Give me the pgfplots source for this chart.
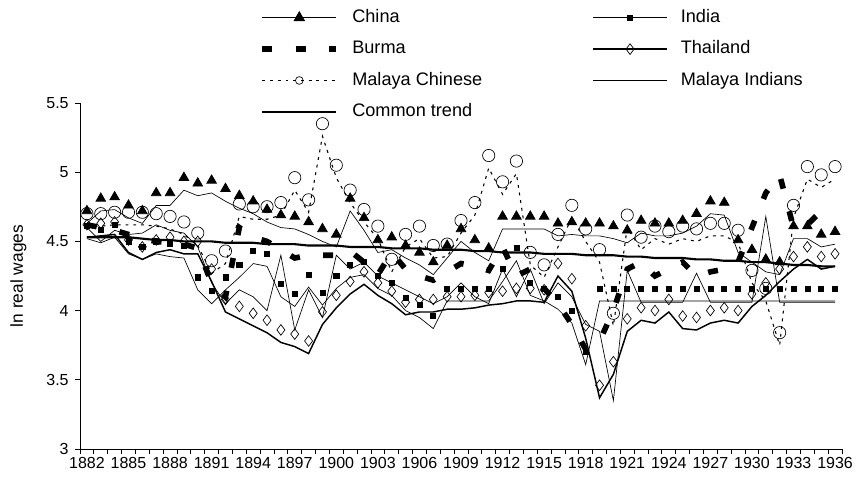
\documentclass[border=0pt]{standalone}
\usepackage{pgfplots}
\pgfplotsset{compat=1.18}
\usepackage{pgfplotstable}
\usepackage{fontspec}
\setmainfont{Liberation Sans}

\pgfplotstableread{
year china india burma thai mchin mind trend
1882 4.63 4.52 4.62 4.53 4.61 4.60 4.53
1883 4.72 4.49 4.60 4.54 4.61 4.50 4.53
1884 4.73 4.53 4.58 4.55 4.62 4.58 4.53
1885 4.67 4.41 4.55 4.42 4.62 4.55 4.53
1886 4.63 4.37 4.52 4.37 4.62 4.56 4.52
1887 4.76 4.41 4.50 4.42 4.61 4.62 4.51
1888 4.76 4.39 4.49 4.44 4.59 4.58 4.51
1889 4.87 4.38 4.48 4.41 4.55 4.56 4.50
1890 4.83 4.15 4.45 4.41 4.47 4.46 4.50
1891 4.85 4.05 4.20 4.21 4.27 4.20 4.50
1892 4.79 4.15 4.10 3.99 4.34 4.05 4.49
1893 4.74 4.24 4.60 3.94 4.68 4.15 4.49
1894 4.70 4.34 4.53 3.89 4.66 4.10 4.49
1895 4.64 4.32 4.50 3.84 4.66 4.00 4.48
1896 4.60 4.10 4.44 3.77 4.69 4.40 4.48
1897 4.59 4.03 4.38 3.74 4.87 3.86 4.48
1898 4.55 4.17 4.40 3.69 4.71 4.15 4.47
1899 4.50 4.04 4.40 3.90 5.26 3.95 4.47
1900 4.46 4.16 4.40 4.02 4.96 4.40 4.47
1901 4.72 4.24 4.43 4.12 4.78 4.30 4.46
1902 4.58 4.26 4.35 4.19 4.64 4.35 4.46
1903 4.42 4.16 4.26 4.11 4.52 4.25 4.46
1904 4.44 4.11 4.42 4.05 4.28 4.20 4.45
1905 4.38 4.00 4.30 3.97 4.46 4.15 4.45
1906 4.33 3.95 4.25 3.99 4.52 4.10 4.45
1907 4.26 3.87 4.22 3.99 4.38 4.05 4.44
1908 4.38 4.07 4.28 4.01 4.39 4.10 4.44
1909 4.50 4.07 4.34 4.01 4.56 4.20 4.44
1910 4.42 4.07 4.32 4.02 4.69 4.10 4.43
1911 4.36 4.07 4.29 4.04 5.03 4.05 4.43
1912 4.59 4.21 4.46 4.05 4.84 4.30 4.42
1913 4.59 4.36 4.25 4.07 4.99 4.10 4.42
1914 4.59 4.11 4.30 4.07 4.33 4.30 4.42
1915 4.59 4.07 4.16 4.06 4.24 4.05 4.41
1916 4.54 4.01 4.05 4.25 4.46 4.20 4.41
1917 4.55 3.91 3.90 4.14 4.67 4.10 4.41
1918 4.54 3.61 3.72 3.80 4.50 3.90 4.40
1919 4.54 4.07 3.78 3.37 4.35 3.85 4.40
1920 4.52 4.07 4.00 3.54 3.89 3.35 4.40
1921 4.49 4.07 4.30 3.85 4.60 4.29 4.39
1922 4.56 4.07 4.35 3.93 4.44 4.06 4.39
1923 4.54 4.07 4.25 3.91 4.52 4.06 4.38
1924 4.54 4.07 4.30 3.99 4.48 4.06 4.38
1925 4.56 4.07 4.35 3.87 4.52 4.06 4.38
1926 4.61 4.07 4.25 3.86 4.50 4.27 4.37
1927 4.70 4.07 4.28 3.91 4.54 4.06 4.37
1928 4.69 4.07 4.30 3.93 4.54 4.06 4.36
1929 4.42 4.07 4.35 3.91 4.49 4.06 4.36
1930 4.35 4.07 4.60 4.03 4.20 4.06 4.35
1931 4.28 4.07 4.85 4.11 4.07 4.68 4.35
1932 4.26 4.07 4.98 4.21 3.75 4.06 4.34
1933 4.52 4.07 4.60 4.30 4.67 4.06 4.33
1934 4.52 4.07 4.62 4.37 4.95 4.06 4.33
1935 4.46 4.07 4.72 4.30 4.89 4.06 4.32
1936 4.48 4.07 4.74 4.32 4.95 4.06 4.32
}\wages

\begin{document}
\begin{tikzpicture}
\useasboundingbox (0,0) rectangle (644.25pt,360pt);
\begin{axis}[
  at={(60pt,23.25pt)}, anchor=south west,
  scale only axis, width=571.5pt, height=259.5pt,
  xmin=1881.5, xmax=1936.5, ymin=3, ymax=5.5,
  axis x line*=bottom, axis y line*=left,
  axis line style={line width=0.6pt},
  xtick={1881.5,1882.5,...,1936.5}, xticklabels={},
  extra x ticks={1882,1885,...,1936},
  extra x tick style={major tick length=0pt, grid=none},
  extra x tick labels={1882,1885,1888,1891,1894,1897,1900,1903,1906,1909,1912,1915,1918,1921,1924,1927,1930,1933,1936},
  xticklabel style={yshift=-2.5pt},
  ytick={3,3.5,...,5.5},
  yticklabel style={/pgf/number format/fixed, xshift=-1pt},
  tick align=outside, major tick length=4pt,
  tick style={line width=0.6pt, black},
  ticklabel style={font=\fontsize{12}{14}\selectfont},
  /pgf/number format/assume math mode=true,
  ylabel={ln real wages}, ylabel style={font=\fontsize{13}{15}\selectfont, yshift=8pt},
  legend columns=2,
  legend style={draw=none, fill=none, at={(rel axis cs:0.2297,1.2798)}, anchor=north west,
    font=\fontsize{13.6}{16}\selectfont,
    nodes={text height=10pt, text depth=3pt, inner sep=0pt, anchor=west},
    row sep=10.5pt,
    /tikz/every odd column/.append style={column sep=9.75pt},
    /tikz/every even column/.append style={column sep=82.5pt}},
  legend cell align=left,
  legend image code/.code={\draw[mark repeat=2,mark phase=2,#1] plot coordinates {(0pt,0pt) (27.75pt,0pt) (55.5pt,0pt)};},
]
% legend images (markers centred on the sample line)
\addlegendimage{black, line width=0.5pt, mark=triangle*, mark size=4.6pt, mark options={solid,fill=black}}
\addlegendimage{black, line width=0.5pt, mark=square*, mark size=1.9pt, mark options={solid,fill=black}}
\addlegendimage{black, line width=4.5pt, dash pattern=on 7.5pt off 17.5pt}
\addlegendimage{black, line width=1.1pt, mark=diamond, mark size=4pt, mark options={solid,fill=white,line width=0.5pt}}
\addlegendimage{black, line width=0.8pt, dash pattern=on 2.2pt off 3.6pt, mark=o, mark size=2.9pt, mark options={solid,fill=white,line width=0.5pt}}
\addlegendimage{black, line width=0.5pt}
\addlegendimage{black, line width=1.6pt}
% data (plot marks sit slightly above their line in the original print)
\addplot[forget plot, black, line width=0.5pt, mark=triangle*, mark size=4.2pt, mark options={solid,fill=black,yshift=9.4pt}] table[x=year,y=china]{\wages};
\addplot[forget plot, black, line width=0.5pt, mark=square*, mark size=1.9pt, mark options={solid,fill=black,yshift=9.4pt}] table[x=year,y=india]{\wages};
\addplot[forget plot, black, line width=4.2pt, dash pattern=on 7.5pt off 17.5pt] table[x=year,y=burma]{\wages};
\addplot[forget plot, black, line width=1.1pt, mark=diamond, mark size=4pt, mark options={solid,fill=white,line width=0.5pt,yshift=9.4pt}] table[x=year,y=thai]{\wages};
\addplot[forget plot, black, line width=0.8pt, dash pattern=on 2.2pt off 3.6pt, mark=o, mark size=4.6pt, mark options={solid,fill=white,line width=0.5pt,yshift=9.4pt}] table[x=year,y=mchin]{\wages};
\addplot[forget plot, black, line width=0.5pt] table[x=year,y=mind]{\wages};
\addplot[forget plot, black, line width=1.6pt] table[x=year,y=trend]{\wages};
\legend{China,India,Burma,Thailand,Malaya Chinese,Malaya Indians,Common trend}
\end{axis}
\end{tikzpicture}
\end{document}
